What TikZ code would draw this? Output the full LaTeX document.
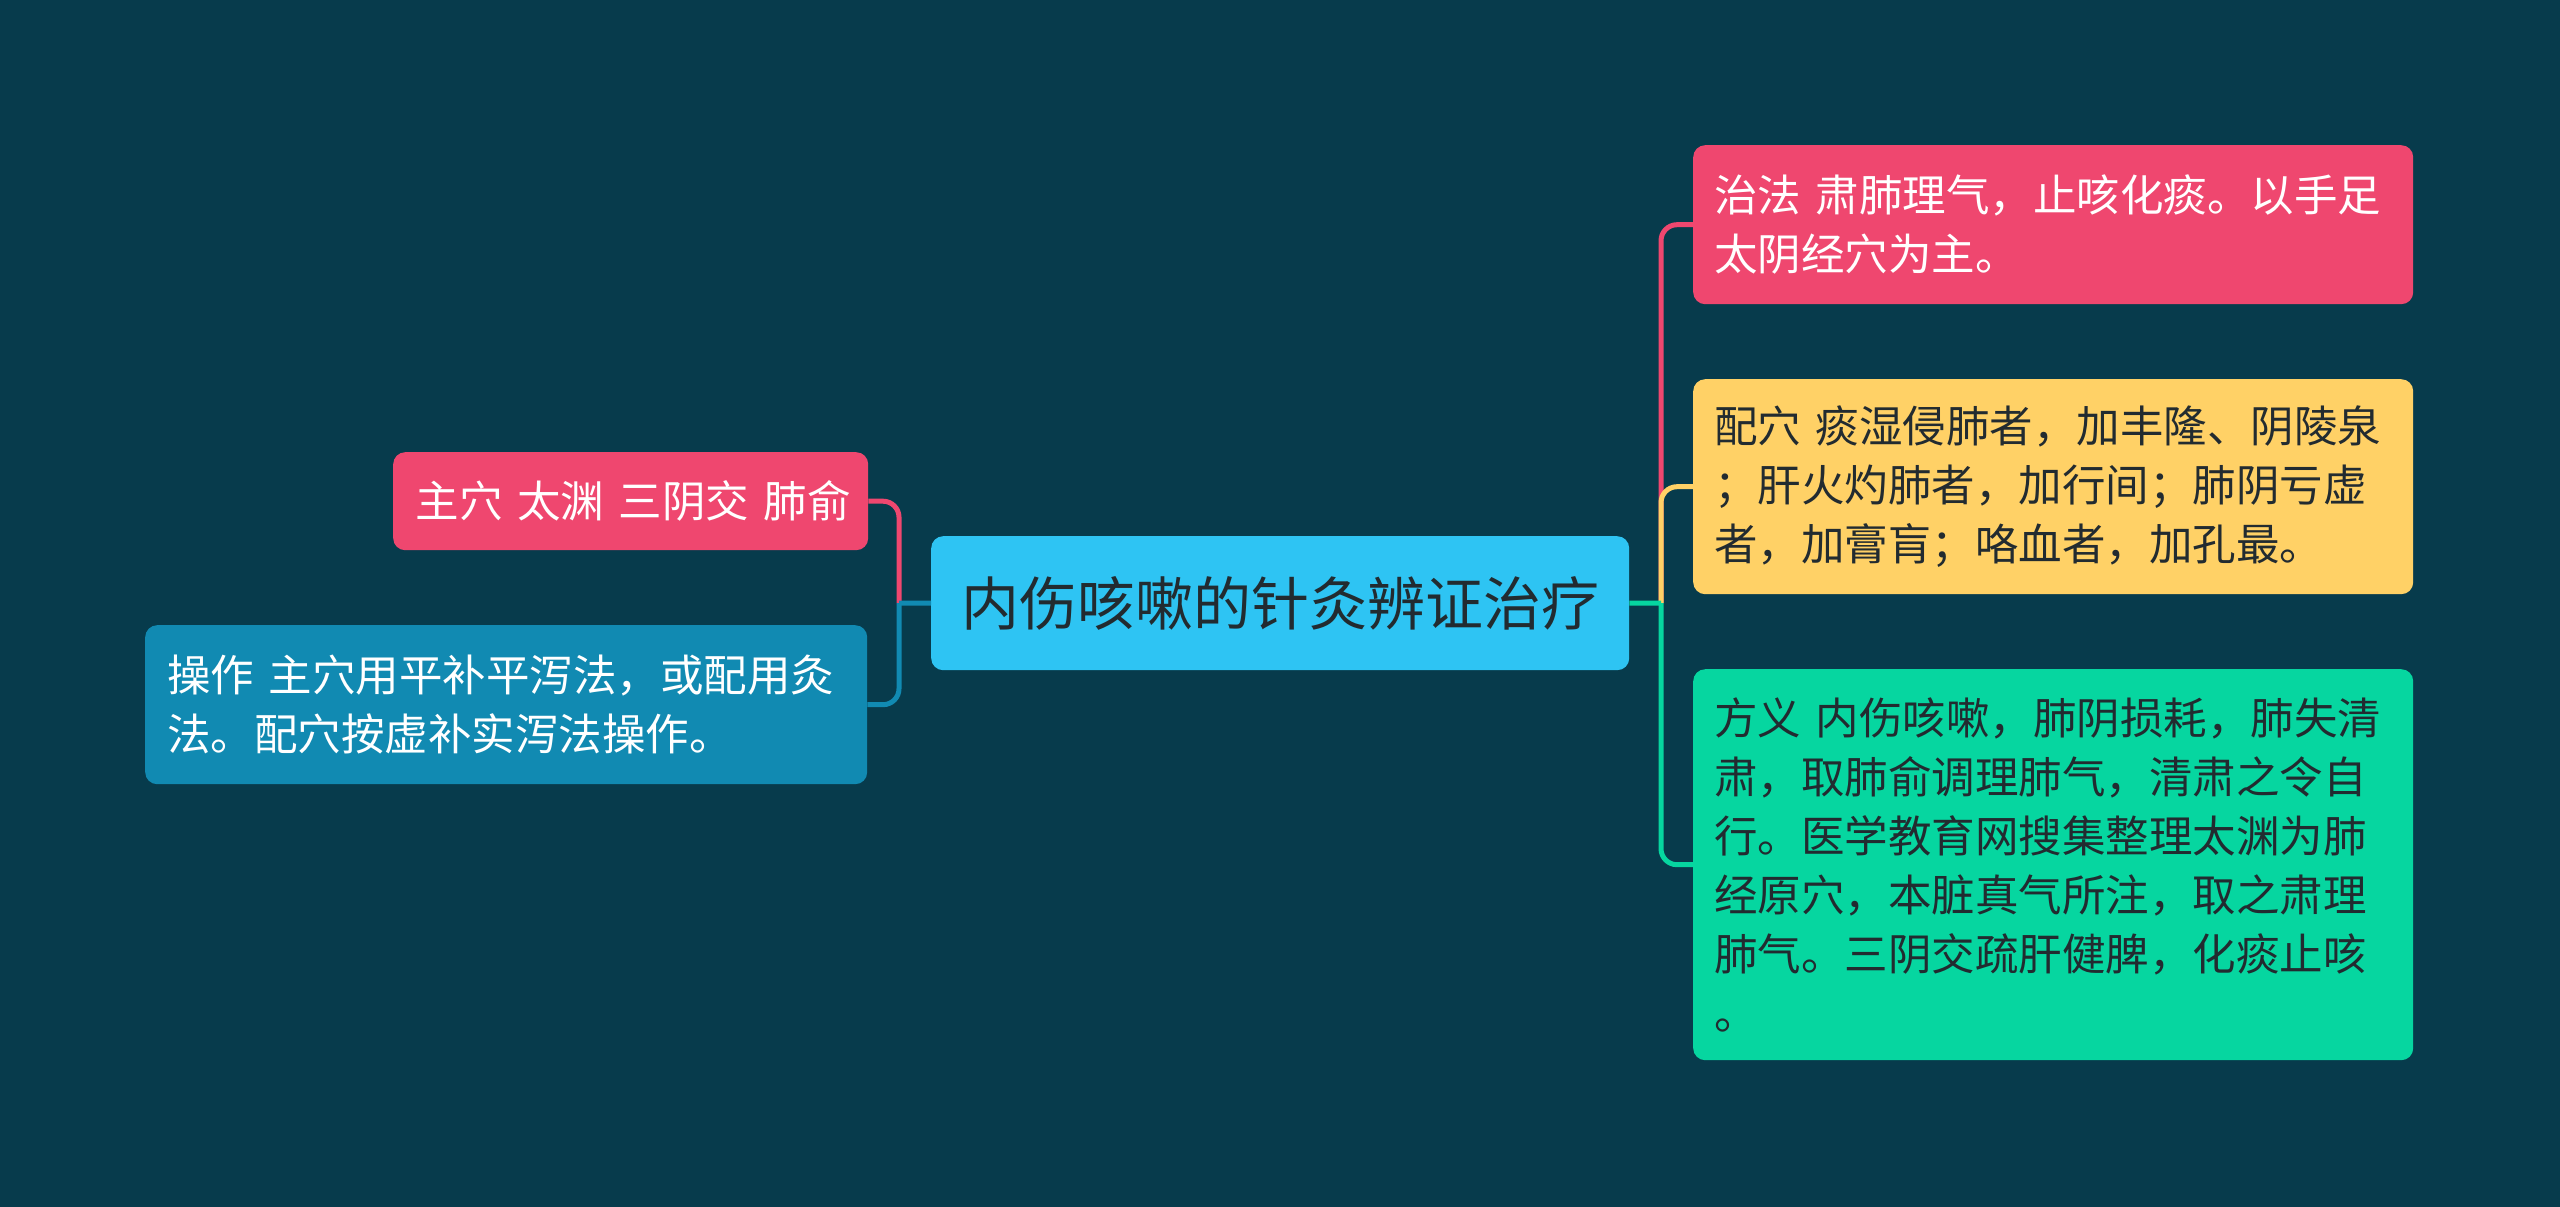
\documentclass[tikz,border=0pt]{standalone}
\usepackage{fontspec}
\newfontfamily\cjk{Noto Sans CJK SC}
\definecolor{bgc}{HTML}{073B4C}
\definecolor{pinkc}{HTML}{EF476F}
\definecolor{yellowc}{HTML}{FFD166}
\definecolor{greenc}{HTML}{06D6A0}
\definecolor{bluec}{HTML}{118AB2}
\definecolor{rootc}{HTML}{2EC4F3}
\definecolor{darktxt}{HTML}{222B30}
\begin{document}
\begin{tikzpicture}[x=1pt,y=-1pt,
  box/.style={rectangle,rounded corners=12pt,anchor=north west,align=left,
    inner xsep=21pt,inner ysep=0pt,font=\cjk\fontsize{43.5}{59}\selectfont},
  conn/.style={line width=5pt,rounded corners=16pt}]
\useasboundingbox[fill=bgc] (0,0) rectangle (2560,1207);
% root
\node[rectangle,rounded corners=12pt,anchor=north west,fill=rootc,text=darktxt,
  minimum width=698pt,minimum height=134pt,inner sep=0pt,
  font=\cjk\fontsize{58}{66}\selectfont] (root) at (931,536) {内伤咳嗽的针灸辨证治疗};
% left nodes
\node[box,fill=pinkc,text=white,minimum width=475pt,minimum height=98pt,
  text width=430pt,inner xsep=22.5pt] (lp) at (393,452) {\mbox{主穴 太渊 三阴交 肺俞}};
\node[box,fill=bluec,text=white,minimum width=722pt,minimum height=159pt,
  text width=678pt,inner xsep=22pt] (lb) at (145,625) {操作 主穴用平补平泻法，或配用灸\\法。配穴按虚补实泻法操作。};
% right nodes
\node[box,fill=pinkc,text=white,minimum width=720pt,minimum height=159pt,
  text width=678pt] (rp) at (1693,145) {治法 肃肺理气，止咳化痰。以手足\\太阴经穴为主。};
\node[box,fill=yellowc,text=darktxt,minimum width=720pt,minimum height=215pt,
  text width=678pt] (ry) at (1693,379) {配穴 痰湿侵肺者，加丰隆、阴陵泉\\；肝火灼肺者，加行间；肺阴亏虚\\者，加膏肓；咯血者，加孔最。};
\node[box,fill=greenc,text=darktxt,minimum width=720pt,minimum height=391pt,
  text width=678pt] (rg) at (1693,669) {方义 内伤咳嗽，肺阴损耗，肺失清\\肃，取肺俞调理肺气，清肃之令自\\行。医学教育网搜集整理太渊为肺\\经原穴，本脏真气所注，取之肃理\\肺气。三阴交疏肝健脾，化痰止咳\\。};
% connectors
\coordinate (jl) at (899,603);
\coordinate (jr) at (1661,603);
\draw[conn,pinkc] (jl) |- (lp.east);
\draw[conn,bluec] (jl) |- (lb.east);
\draw[line width=5pt,bluec] (root.west) -- (jl);
\draw[conn,pinkc] (jr) |- (rp.west);
\draw[conn,yellowc] (jr) |- (ry.west);
\draw[conn,greenc] (jr) |- (rg.west);
\draw[line width=5pt,greenc] (root.east) -- (jr);
\end{tikzpicture}
\end{document}
